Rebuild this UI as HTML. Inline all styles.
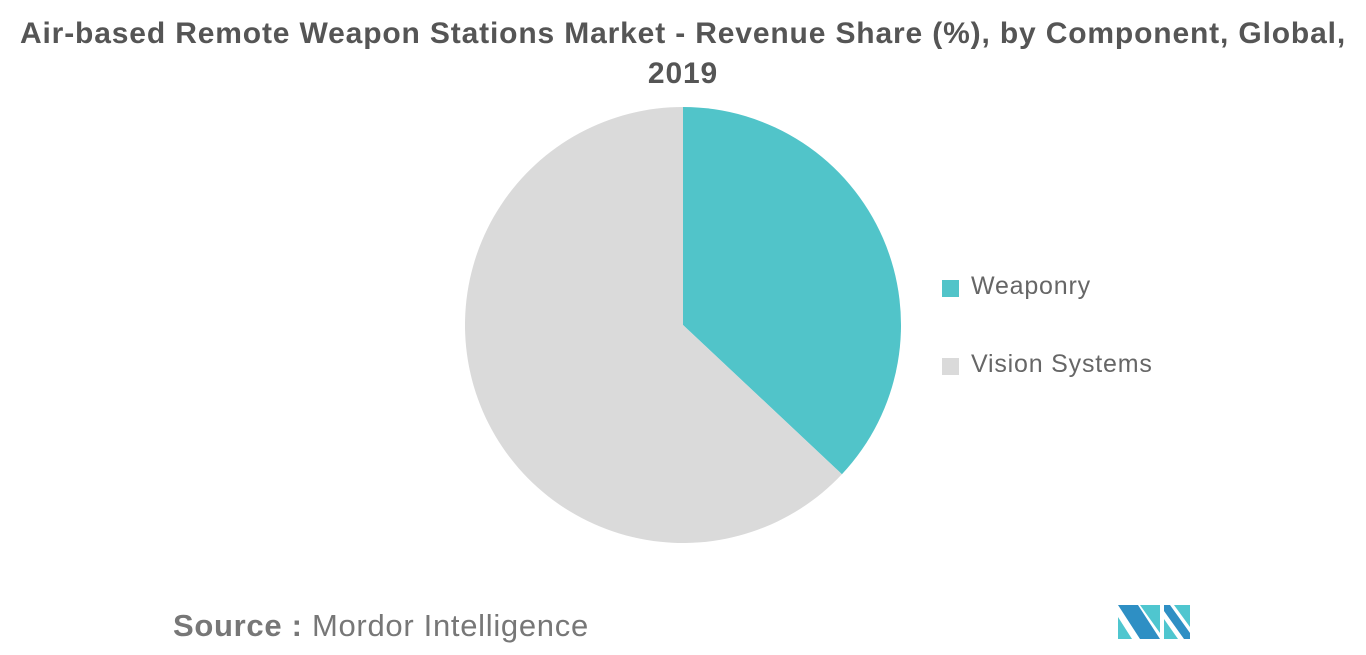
<!DOCTYPE html>
<html><head><meta charset="utf-8"><style>
body{margin:0;width:1366px;height:655px;background:#fff;font-family:"Liberation Sans",sans-serif;overflow:hidden;position:relative}
#title{position:absolute;left:0;top:14px;width:1366px;text-align:center;font-size:30px;letter-spacing:0.85px;font-weight:bold;color:#555;line-height:40px}
.leg{position:absolute;font-size:25px;color:#666;letter-spacing:0.8px}
.sw{position:absolute;width:17px;height:17px}
#src{position:absolute;left:173px;top:608px;font-size:31px;color:#777;letter-spacing:0.7px}
</style></head><body>
<div id="title">Air-based Remote Weapon Stations Market - Revenue Share (%), by Component, Global,<br>2019</div>
<svg id="pie" width="1366" height="655" style="position:absolute;left:0;top:0"></svg>
<div class="sw" style="left:942px;top:280px;background:#51c4c9"></div>
<div class="leg" style="left:971px;top:272px">Weaponry</div>
<div class="sw" style="left:942px;top:358px;background:#dadada"></div>
<div class="leg" style="left:971px;top:350px">Vision Systems</div>
<div id="src"><b>Source :</b> Mordor Intelligence</div>
<svg width="80" height="40" style="position:absolute;left:1116px;top:603px">
<polygon points="2,2 22,2 44,36 24,36" fill="#2e8fc4"/>
<polygon points="2,14 16,36 2,36" fill="#4fc6cf"/>
<polygon points="24,2 44,2 44,30" fill="#4fc6cf"/>
<polygon points="48,2 54,2 74,30 74,36 68,36 48,8" fill="#2e8fc4"/>
<polygon points="48,16 62,36 48,36" fill="#4fc6cf"/>
<polygon points="58,2 74,2 74,24" fill="#4fc6cf"/>
</svg>
<script>
const categories=["Weaponry","Vision Systems"];
const values=[37,63];
const colors=["#51c4c9","#dadada"];
const svg=document.getElementById('pie');
const cx=683,cy=325,r=218;
const total=values.reduce((a,b)=>a+b,0);
let a0=0;
values.forEach((v,i)=>{
  const a1=a0+v/total*2*Math.PI;
  const x0=cx+r*Math.sin(a0),y0=cy-r*Math.cos(a0);
  const x1=cx+r*Math.sin(a1),y1=cy-r*Math.cos(a1);
  const large=(a1-a0)>Math.PI?1:0;
  const p=document.createElementNS('http://www.w3.org/2000/svg','path');
  p.setAttribute('d',`M${cx},${cy} L${x0},${y0} A${r},${r} 0 ${large} 1 ${x1},${y1} Z`);
  p.setAttribute('fill',colors[i]);
  
  
  svg.appendChild(p);
  a0=a1;
});
</script>
</body></html>
